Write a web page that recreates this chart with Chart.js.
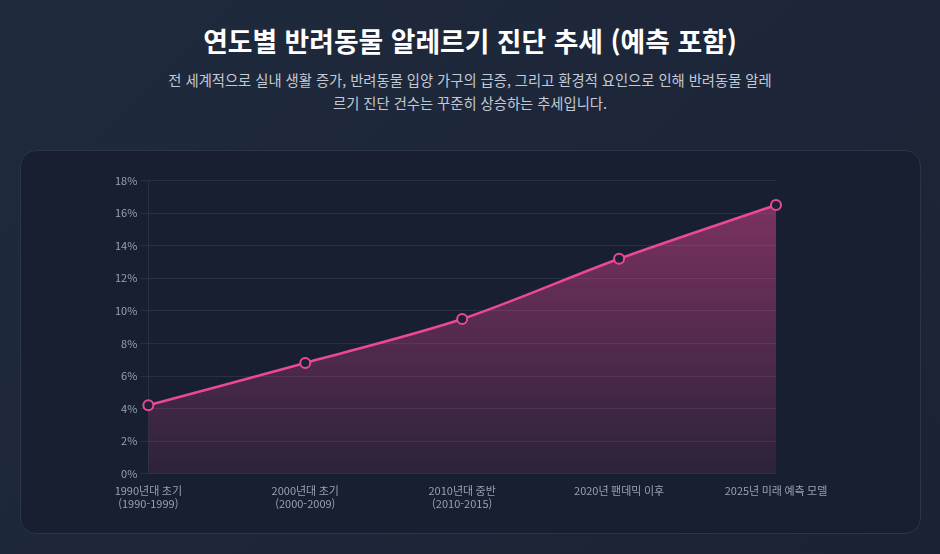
<!DOCTYPE html>
<html lang="ko">
<head>
<meta charset="utf-8">
<script src="https://cdn.jsdelivr.net/npm/chart.js@4"></script>
<style>
  html, body { margin: 0; padding: 0; }
  body {
    width: 940px; height: 554px; overflow: hidden;
    background: linear-gradient(135deg, #1f2a3d 0%, #1d2638 60%, #1b2233 100%);
    font-family: "Noto Sans CJK KR", "Noto Sans", sans-serif;
    position: relative;
  }
  h1 {
    position: absolute; left: 0; width: 940px; top: 22px; margin: 0;
    text-align: center; color: #ffffff; font-size: 26.8px; font-weight: 700;
    line-height: 38px;
  }
  p.sub {
    position: absolute; left: 166px; width: 608px; top: 68px; margin: 0;
    text-align: center; color: #c3cad6; font-size: 14.3px; line-height: 23px;
  }
  .card {
    position: absolute; left: 20px; top: 150px; width: 899px; height: 382px;
    background: #171f30; border: 1px solid #2b3548; border-radius: 16px;
  }
  .wrap { position: absolute; left: 40px; top: 20px; width: 840px; height: 342px; }
</style>
</head>
<body>
<h1>연도별 반려동물 알레르기 진단 추세 (예측 포함)</h1>
<p class="sub">전 세계적으로 실내 생활 증가, 반려동물 입양 가구의 급증, 그리고 환경적 요인으로 인해 반려동물 알레르기 진단 건수는 꾸준히 상승하는 추세입니다.</p>
<div class="card"><div class="wrap"><canvas id="c"></canvas></div></div>
<script>
// 구간 라벨
const periods = [
  ['1990년대 초기', '(1990-1999)'],
  ['2000년대 초기', '(2000-2009)'],
  ['2010년대 중반', '(2010-2015)'],
  '2020년 팬데믹 이후',
  '2025년 미래 예측 모델'
];
// 진단 비율 (%)
const diagnosisRate = [4.2, 6.8, 9.5, 13.2, 16.5];
const yMax = 18;
const yStep = 2;

const pink = '#ec4899';
const gridColor = 'rgba(255,255,255,0.08)';
const tickColor = '#97a1b3';

const ctx = document.getElementById('c').getContext('2d');

new Chart(ctx, {
  type: 'line',
  data: {
    labels: periods,
    datasets: [{
      label: '알레르기 진단 비율',
      data: diagnosisRate,
      borderColor: pink,
      borderWidth: 2.5,
      tension: 0.3,
      fill: true,
      backgroundColor: (c) => {
        const area = c.chart.chartArea;
        if (!area) return 'rgba(236,72,153,0.3)';
        const g = c.chart.ctx.createLinearGradient(0, area.top, 0, area.bottom);
        g.addColorStop(0, 'rgba(236,72,153,0.5)');
        g.addColorStop(1, 'rgba(236,72,153,0.1)');
        return g;
      },
      pointRadius: 5,
      pointBorderWidth: 2,
      pointBorderColor: pink,
      pointBackgroundColor: '#1a2234'
    }]
  },
  options: {
    responsive: true,
    maintainAspectRatio: false,
    animation: false,
    layout: { padding: { left: 51, right: 125, top: 8, bottom: 0 } },
    plugins: {
      legend: { display: false },
      tooltip: { enabled: false }
    },
    scales: {
      x: {
        grid: { display: false },
        border: { display: false },
        ticks: {
          color: tickColor,
          font: { family: '"Noto Sans CJK KR", sans-serif', size: 11, lineHeight: 1.15 },
          maxRotation: 0,
          autoSkip: false
        }
      },
      y: {
        min: 0,
        max: yMax,
        grid: { color: gridColor, tickLength: 8 },
        border: { color: gridColor },
        ticks: {
          stepSize: yStep,
          color: tickColor,
          padding: 3,
          font: { family: '"Noto Sans CJK KR", sans-serif', size: 11 },
          callback: (v) => v + '%'
        }
      }
    }
  }
});
</script>
</body>
</html>
